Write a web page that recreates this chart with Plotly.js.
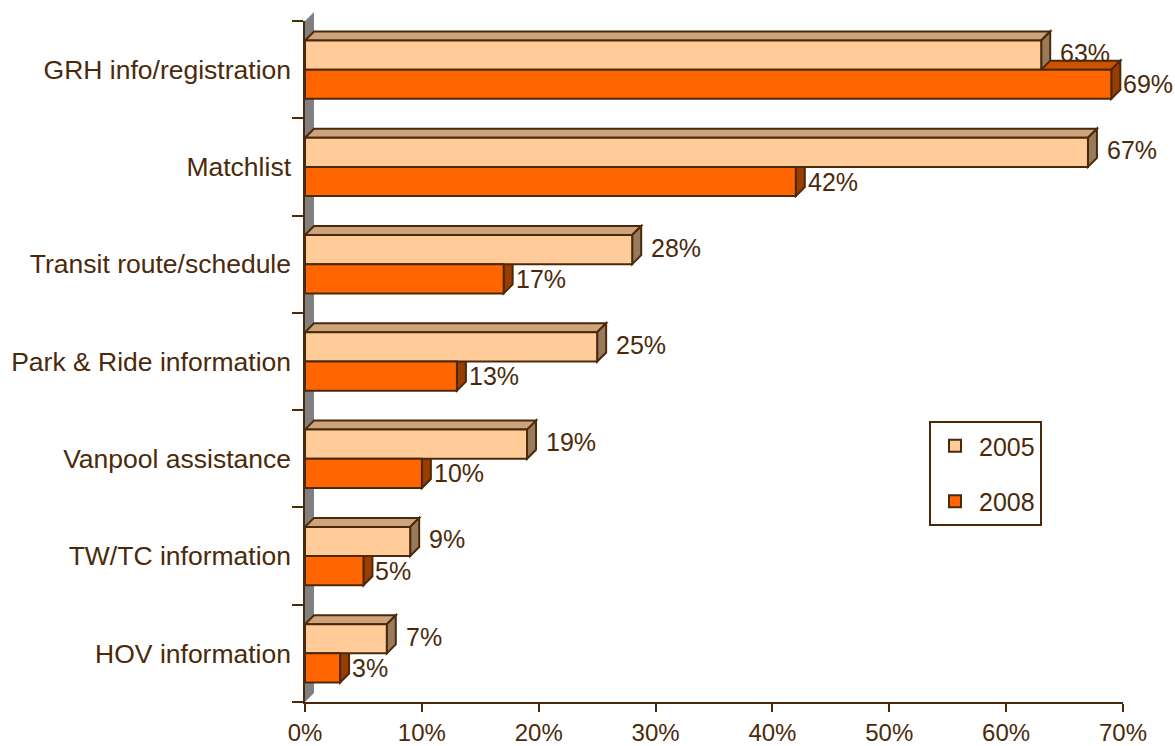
<!DOCTYPE html>
<html><head><meta charset="utf-8">
<script src="https://cdn.plot.ly/plotly-3.0.1.min.js"></script>
<style>html,body{margin:0;padding:0;background:#fff}</style>
</head><body><div id="chart" style="width:1175px;height:746px"></div>
<script>
// ---- data ----
const categories = ["GRH info/registration", "Matchlist", "Transit route/schedule", "Park & Ride information", "Vanpool assistance", "TW/TC information", "HOV information"];
const values2005 = [63, 67, 28, 25, 19, 9, 7];
const values2008 = [69, 42, 17, 13, 10, 5, 3];
const seriesNames = ["2005", "2008"];
const xTickValues = [0, 10, 20, 30, 40, 50, 60, 70];
const xTickLabels = ["0%", "10%", "20%", "30%", "40%", "50%", "60%", "70%"];

// ---- style ----
const W = 1175, H = 746;
const M = {l: 305, r: 52, t: 21, b: 44};
const XMAX = 70;
const BROWN = "#4b2a0b";
const FONT = "Liberation Sans, Arial, sans-serif";
const colors = {
  front: ["#FFCC99", "#FF6600"],
  top:   ["#CCA37A", "#CC5200"],
  side:  ["#997A5C", "#993D00"]
};
const BARGAP = 0.4;
const DEPTH = 9; // px

const plotW = W - M.l - M.r, plotH = H - M.t - M.b;
const pxX = plotW / XMAX, pxY = plotH / categories.length;
const DX = DEPTH / pxX, DY = DEPTH / pxY;
const half = (1 - BARGAP) / 2;
const idx = categories.map((_, i) => i);
const series = [values2005, values2008];

const traces = series.map((vals, s) => ({
  type: "bar", orientation: "h", name: seriesNames[s],
  x: vals, y: idx, legendgroup: "g" + s,
  marker: {color: colors.front[s], line: {color: BROWN, width: 2}},
  hoverinfo: "skip"
}));

// 3D faces (drawn below the bar fronts), 2008 first so 2005 faces overlap it
const shapes = [];
shapes.push({
  type: "path", xref: "paper", yref: "paper", layer: "below",
  path: `M0,0 L${DEPTH/plotW},${DEPTH/plotH} L${DEPTH/plotW},${1 + DEPTH/plotH} L0,1 Z`,
  fillcolor: "#808080", line: {width: 0}
});
[1, 0].forEach(s => {
  series[s].forEach((v, i) => {
    const yTop = s === 0 ? i - half : i;
    const yBot = s === 0 ? i : i + half;
    shapes.push({
      type: "path", xref: "x", yref: "y", layer: "below",
      path: `M0,${yTop} L${DX},${yTop - DY} L${v + DX},${yTop - DY} L${v},${yTop} Z`,
      fillcolor: colors.top[s], line: {color: BROWN, width: 2}
    });
    shapes.push({
      type: "path", xref: "x", yref: "y", layer: "below",
      path: `M${v},${yTop} L${v + DX},${yTop - DY} L${v + DX},${yBot - DY} L${v},${yBot} Z`,
      fillcolor: colors.side[s], line: {color: BROWN, width: 2}
    });
  });
});

const annotations = [];
series.forEach((vals, s) => {
  vals.forEach((v, i) => {
    annotations.push({
      x: v, y: s === 0 ? i - half / 2 : i + half / 2, xref: "x", yref: "y",
      text: v + "%", showarrow: false, xanchor: "left", yanchor: "middle",
      xshift: s === 0 ? 17 : 10, yshift: s === 0 ? 2 : 0,
      font: {family: FONT, size: 25, color: BROWN}
    });
  });
});

const yRange = [categories.length - 0.5, -0.5];
const boundaries = [];
for (let k = 0; k <= categories.length; k++) boundaries.push(k - 0.5);

const layout = {
  width: W, height: H, margin: M,
  paper_bgcolor: "#ffffff", plot_bgcolor: "rgba(0,0,0,0)",
  barmode: "group", bargap: BARGAP, bargroupgap: 0,
  font: {family: FONT, color: BROWN, size: 25},
  showlegend: true,
  legend: {
    x: (929 - M.l) / plotW, y: (H - M.b - 421) / plotH, xanchor: "left", yanchor: "top",
    bgcolor: "#ffffff", bordercolor: BROWN, borderwidth: 2,
    font: {family: FONT, size: 25, color: BROWN},
    tracegroupgap: 20, traceorder: "grouped", itemwidth: 38
  },
  xaxis: {
    range: [0, XMAX], tickvals: xTickValues, ticktext: xTickLabels,
    showgrid: false, zeroline: false, showline: true, linecolor: BROWN, linewidth: 2,
    ticks: "outside", ticklen: 8, tickwidth: 2, tickcolor: BROWN,
    tickfont: {family: FONT, size: 24, color: BROWN}, fixedrange: true
  },
  yaxis: {
    range: yRange, tickvals: boundaries, ticktext: boundaries.map(() => ""),
    showgrid: false, zeroline: false, showline: true, linecolor: BROWN, linewidth: 2,
    ticks: "outside", ticklen: 11, tickwidth: 2, tickcolor: BROWN, fixedrange: true
  },
  yaxis2: {
    overlaying: "y", anchor: "x", side: "left",
    range: yRange, tickvals: idx, ticktext: categories,
    showgrid: false, zeroline: false, showline: false, ticks: "",
    ticklabelstandoff: 13,
    tickfont: {family: FONT, size: 26.5, color: BROWN}, fixedrange: true
  },
  shapes: shapes, annotations: annotations
};

// invisible trace to activate yaxis2 category labels
traces.push({type: "scatter", x: [null], y: [null], yaxis: "y2", showlegend: false, hoverinfo: "skip"});

Plotly.newPlot("chart", traces, layout, {displayModeBar: false, staticPlot: true});
</script></body></html>
